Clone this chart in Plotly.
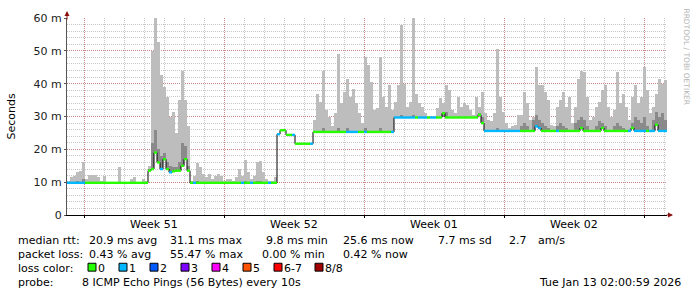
import pandas as pd
import plotly.graph_objects as go

# ---------------- data (one sample every 3.6 h) ----------------
start_time = "2025-12-14 03:36"
sample_minutes = 216

median_ms = [
    9.8, 9.8, 9.8, 9.8, 9.8, 9.8, 9.8, 9.8, 9.8, 9.8,
    9.8, 9.8, 9.8, 9.8, 9.8, 9.8, 9.8, 9.8, 9.8, 9.8,
    9.8, 9.8, 9.8, 9.8, 9.8, 9.8, 9.8, 13.5, 14, 19,
    16, 14, 17, 14, 13, 13.3, 13.5, 13.5, 15, 17,
    13.5, 9.8, 9.8, 9.8, 9.8, 9.8, 9.8, 9.8, 9.8, 9.8,
    9.8, 9.8, 9.8, 9.8, 9.8, 9.8, 9.8, 9.8, 9.8, 9.8,
    9.8, 9.8, 9.8, 9.8, 9.8, 9.8, 9.8, 9.8, 9.8, 9.8,
    24.6, 25.8, 25.8, 24.4, 24.4, 24.4, 21.7, 21.7, 21.7, 21.7,
    21.7, 21.7, 25.3, 25.3, 25.3, 25.3, 25.3, 25.3, 25.3, 25.3,
    25.3, 25.3, 25.3, 25.3, 25.3, 25.3, 25.3, 25.3, 25.3, 25.3,
    25.3, 25.3, 25.3, 25.3, 25.3, 25.3, 25.3, 25.3, 25.3, 29.7,
    29.7, 29.7, 29.7, 29.7, 29.7, 29.7, 29.7, 29.7, 29.7, 29.7,
    29.7, 29.7, 29.7, 29.7, 29.7, 31.0, 29.7, 29.7, 29.7, 29.7,
    29.7, 29.7, 29.7, 29.7, 29.7, 29.7, 29.7, 30.5, 28.0, 25.6,
    25.6, 25.6, 25.6, 25.6, 25.6, 25.6, 25.6, 25.6, 25.6, 25.6,
    25.6, 25.6, 25.6, 25.6, 25.6, 25.6, 27.0, 26.5, 25.6, 25.6,
    25.6, 25.6, 25.6, 25.6, 25.6, 25.6, 25.6, 25.6, 25.6, 25.6,
    25.6, 26.5, 25.6, 25.6, 25.6, 25.6, 25.6, 25.6, 26.5, 25.6,
    25.6, 25.6, 25.6, 25.6, 25.6, 25.6, 25.6, 25.6, 26.5, 25.6,
    25.6, 25.6, 25.6, 25.6, 25.6, 25.6, 27.5, 25.6, 25.6, 25.6,
]

smoke_max_ms = [
    10.5, 11.5, 12, 13, 13.5, 16, 11, 12.3, 12.3, 12.3,
    11.5, 10.5, 12, 10, 9.8, 9.8, 10, 14.7, 10, 9.8,
    9.8, 11, 11.5, 9.8, 10, 11, 10.5, 15, 50, 60,
    52.8, 42.6, 39, 36, 30, 31.5, 25, 35, 44, 35,
    27, 10.5, 12, 15.9, 14.5, 12.5, 11.5, 12.5, 11, 12,
    12.6, 12, 10.5, 11, 11, 10.5, 11.5, 14, 12, 16.8,
    13, 11, 12, 16, 16.5, 13, 11, 10.5, 10.5, 11.5,
    24.6, 25.8, 25.8, 24.4, 24.4, 24.4, 21.7, 21.7, 21.7, 21.7,
    21.7, 21.7, 29, 37, 34.5, 44, 32, 30, 27, 31,
    49, 34, 37.5, 41.5, 36, 38.5, 34, 31, 28, 48,
    45.6, 40.5, 32, 32.5, 48, 36, 33, 39.5, 32, 34.5,
    39.5, 58, 40, 33, 34.5, 60, 37, 34, 33, 31,
    29.7, 29.7, 29.7, 32.5, 35.5, 34, 39.5, 38, 32, 31,
    36, 33, 34, 33.5, 32, 30.5, 36, 33, 37.5, 31,
    29, 28.5, 31, 50.5, 36, 31.5, 28, 26.5, 27, 27.5,
    30.5, 30.5, 37.5, 34, 29, 30, 45, 39.5, 39.5, 37.5,
    35, 27.5, 27, 33, 35, 37.5, 33, 36, 28, 33,
    41.5, 44, 43.5, 36, 29, 30, 33, 34.5, 38, 39.5,
    33, 30, 32, 43.5, 34, 37, 33, 29, 36, 39.5,
    34, 36, 45, 38, 31, 33, 37, 41.5, 40, 41,
]

smoke_mid_ms = [
    10.0, 10.0, 10.0, 10.5, 10.0, 11, 10.0, 10.0, 10.0, 10.0,
    10.0, 10.0, 10.0, 10.0, 10.0, 10.0, 10.0, 10.0, 10.0, 10.0,
    10.0, 10.0, 10.0, 10.0, 10.0, 10.0, 10.0, 14, 22, 26,
    20, 18, 19, 16, 15, 14.5, 14.5, 16, 22, 21,
    15, 10.0, 10.0, 10.5, 10.0, 10.0, 10.0, 10.0, 10.0, 10.0,
    10.0, 10.0, 10.0, 10.0, 10.0, 10.0, 10.0, 10.0, 10.0, 10.5,
    10.0, 10.0, 10.0, 10.5, 10.5, 10.0, 10.0, 10.0, 10.0, 10.0,
    24.6, 25.8, 25.8, 24.4, 24.4, 24.4, 21.7, 21.7, 21.7, 21.7,
    21.7, 21.7, 25.6, 25.6, 25.6, 26.5, 25.6, 25.6, 25.6, 25.6,
    26.5, 25.6, 25.6, 26.5, 25.6, 25.6, 25.6, 25.6, 25.6, 26.5,
    25.6, 25.6, 25.6, 25.6, 26.5, 25.6, 25.6, 25.6, 25.6, 30.0,
    30.0, 30.5, 30.0, 30.0, 30.0, 30.5, 30.0, 30.0, 30.0, 30.0,
    29.7, 29.7, 29.7, 30.0, 30.0, 30.0, 31.5, 30.0, 30.0, 30.0,
    30.0, 30.0, 30.0, 30.0, 30.0, 30.0, 30.0, 31.0, 30.0, 25.9,
    25.9, 25.9, 25.9, 26.5, 25.9, 25.9, 25.9, 25.9, 25.9, 25.9,
    25.9, 27, 28, 27, 25.9, 29, 30.5, 29, 28, 27,
    26.5, 25.9, 25.9, 27, 28, 27, 26.5, 25.9, 25.9, 28,
    29, 30, 29, 27, 25.9, 25.9, 27, 28.5, 28, 27,
    25.9, 25.9, 27, 28, 27, 26.5, 25.9, 25.9, 28, 30,
    29, 28, 30, 27, 25.9, 29, 31.5, 30, 31, 29,
]

# lost pings per sample (0..8)
loss_count = [
    1, 1, 1, 1, 1, 1, 0, 0, 0, 0,
    0, 0, 0, 0, 0, 0, 0, 0, 0, 0,
    0, 0, 0, 0, 0, 0, 0, 0, 0, 0,
    0, 1, 0, 0, 1, 0, 0, 0, 0, 0,
    0, 0, 1, 0, 0, 0, 0, 0, 0, 0,
    0, 0, 0, 0, 0, 0, 0, 0, 1, 0,
    0, 1, 0, 0, 0, 0, 0, 1, 0, 0,
    1, 0, 0, 0, 0, 1, 0, 0, 0, 0,
    0, 1, 0, 0, 0, 0, 0, 0, 0, 0,
    0, 0, 0, 1, 1, 1, 1, 0, 0, 1,
    0, 0, 0, 0, 0, 0, 0, 0, 1, 1,
    1, 1, 1, 1, 1, 1, 0, 1, 1, 1,
    0, 1, 1, 0, 0, 0, 0, 0, 0, 0,
    0, 0, 0, 0, 0, 0, 0, 0, 0, 1,
    1, 1, 1, 1, 1, 1, 1, 1, 1, 1,
    1, 0, 0, 0, 0, 0, 1, 1, 0, 0,
    0, 0, 0, 1, 0, 0, 0, 0, 0, 0,
    0, 0, 0, 0, 0, 0, 0, 0, 0, 0,
    0, 0, 0, 0, 0, 0, 0, 1, 0, 1,
    1, 1, 1, 0, 1, 1, 0, 1, 1, 1,
]

loss_labels = ["0", "1", "2", "3", "4", "5", "6-7", "8/8"]
loss_colors = ["#26ff00", "#00b8ff", "#0059ff", "#7e00ff",
               "#ff00ff", "#ff5500", "#ff0000", "#a10000"]
loss_bins = [[0], [1], [2], [3], [4], [5], [6, 7], [8]]

week_mondays = ["2025-12-15", "2025-12-22", "2025-12-29", "2026-01-05", "2026-01-12"]
week_label_pos = ["2025-12-18 12:00", "2025-12-25 12:00", "2026-01-01 12:00", "2026-01-08 12:00"]
week_labels = ["Week 51", "Week 52", "Week 01", "Week 02"]

y_tickvals = [0, 10, 20, 30, 40, 50, 60]
y_ticktext = ["0", "10 m", "20 m", "30 m", "40 m", "50 m", "60 m"]

stats_rows = [
    ["median rtt:", "20.9 ms avg", "31.1 ms max", "9.8 ms min", "25.6 ms now", "7.7 ms sd", "2.7", "am/s"],
    ["packet loss:", "0.43 % avg", "55.47 % max", "0.00 % min", "0.42 % now"],
]
probe_text = "8 ICMP Echo Pings (56 Bytes) every 10s"
stamp_text = "Tue Jan 13 02:00:59 2026"

# ---------------- geometry helpers ----------------
W, H = 697, 297
L, R, T, B = 67, 30, 15, 82
PW, PH = W - L - R, H - T - B


def px(x):
    return (x - L) / PW


def py(y):
    return (H - B - y) / PH


t0 = pd.Timestamp(start_time)
step = pd.Timedelta(minutes=sample_minutes)
n = len(median_ms)
starts = [t0 + step * i for i in range(n)]
ends = [s + step for s in starts]
centers = [s + step / 2 for s in starts]
bar_w = step.total_seconds() * 1000 * 0.7

fig = go.Figure()

# smoke (outer, light)
fig.add_trace(go.Bar(
    x=centers, y=[h - m for h, m in zip(smoke_max_ms, median_ms)], base=median_ms,
    width=[bar_w] * n, marker=dict(color="#bdbdbd", line=dict(width=0)),
    showlegend=False, hoverinfo="skip"))
# smoke (inner, darker)
fig.add_trace(go.Bar(
    x=centers, y=[h - m for h, m in zip(smoke_mid_ms, median_ms)], base=median_ms,
    width=[bar_w] * n, marker=dict(color="#8a8a8a", line=dict(width=0)),
    showlegend=False, hoverinfo="skip"))

# median connecting line (black)
fig.add_trace(go.Scatter(
    x=starts + [ends[-1]], y=median_ms + [median_ms[-1]], mode="lines",
    line=dict(color="#000000", width=1, shape="hv"), showlegend=False, hoverinfo="skip"))

# median coloured by loss
for lab, col, counts in zip(loss_labels, loss_colors, loss_bins):
    xs, ys = [], []
    for s, e, m, c in zip(starts, ends, median_ms, loss_count):
        if c in counts:
            xs += [s, e, None]
            ys += [m, m, None]
    if xs:
        fig.add_trace(go.Scatter(x=xs, y=ys, mode="lines",
                                 line=dict(color=col, width=2.4),
                                 showlegend=False, hoverinfo="skip"))

major_grid = "rgba(210,60,60,0.45)"
minor_grid = "rgba(0,0,0,0.22)"
font_main = "DejaVu Sans"

fig.update_layout(
    width=W, height=H, margin=dict(l=L, r=R, t=T, b=B),
    paper_bgcolor="white", plot_bgcolor="white",
    barmode="overlay", bargap=0,
    font=dict(family=font_main, size=11, color="#000000"),
    xaxis=dict(
        type="date", range=[t0, t0 + pd.Timedelta(days=30)],
        tickvals=week_mondays, showticklabels=False,
        showgrid=True, gridcolor=major_grid, griddash="1px,1px", gridwidth=1,
        minor=dict(dtick=86400000, tick0="2025-12-15", showgrid=True,
                   gridcolor=minor_grid, griddash="1px,1px", gridwidth=1),
        showline=True, linecolor="#000000", linewidth=1,
        ticks="outside", ticklen=2, tickcolor="#000000",
        zeroline=False, fixedrange=True,
    ),
    yaxis=dict(
        range=[0, 60], tickvals=y_tickvals, ticktext=y_ticktext,
        showgrid=True, gridcolor=major_grid, griddash="1px,1px", gridwidth=1,
        minor=dict(dtick=2, showgrid=True, gridcolor=minor_grid,
                   griddash="1px,1px", gridwidth=1),
        showline=True, linecolor="#555555", linewidth=1,
        ticks="outside", ticklen=2, tickcolor="#555555",
        tickfont=dict(size=11, color="#222222"),
        zeroline=False, fixedrange=True,
    ),
)

ann = []
# week labels
for pos, lab in zip(week_label_pos, week_labels):
    ann.append(dict(x=pos, y=py(225), xref="x", yref="paper", text=lab,
                    showarrow=False, xanchor="center", yanchor="middle"))
# y title
ann.append(dict(x=px(11), y=0.5, xref="paper", yref="paper", text="Seconds",
                textangle=-90, showarrow=False, xanchor="center", yanchor="middle"))
# watermark
ann.append(dict(x=px(687), y=py(54), xref="paper", yref="paper",
                text="RRDTOOL / TOBI OETIKER", textangle=90, showarrow=False,
                font=dict(size=7.5, color="#b4b4b4"), xanchor="center", yanchor="middle"))
# axis arrows
ann.append(dict(x=0, y=py(8), xref="paper", yref="paper", text="", showarrow=True,
                ax=0, ay=10, arrowhead=2, arrowsize=1, arrowwidth=1, arrowcolor="#8b1010"))
ann.append(dict(x=px(673), y=0, xref="paper", yref="paper", text="", showarrow=True,
                ax=-8, ay=0, arrowhead=2, arrowsize=1, arrowwidth=1, arrowcolor="#8b1010"))

# statistics rows
row_x = [[16, 87, 168, 264, 341, 436, 507, 536],
         [16, 87, 168, 260, 341]]
row_y = [241, 255]
for texts, xs, yy in zip(stats_rows, row_x, row_y):
    for t, xx in zip(texts, xs):
        ann.append(dict(x=px(xx), y=py(yy), xref="paper", yref="paper", text=t,
                        showarrow=False, xanchor="left", yanchor="middle"))
# loss colour legend
ann.append(dict(x=px(16), y=py(269), xref="paper", yref="paper", text="loss color:",
                showarrow=False, xanchor="left", yanchor="middle"))
box_x = [88, 119, 150, 181, 212, 243, 274, 315]
shapes = []
for lab, col, bx in zip(loss_labels, loss_colors, box_x):
    shapes.append(dict(type="rect", xref="paper", yref="paper",
                       x0=px(bx), x1=px(bx + 8), y0=py(272), y1=py(264),
                       fillcolor=col, line=dict(color="#000000", width=1)))
    ann.append(dict(x=px(bx + 8), y=py(269), xref="paper", yref="paper", text=lab,
                    showarrow=False, xanchor="left", yanchor="middle"))
# probe row
ann.append(dict(x=px(16), y=py(284), xref="paper", yref="paper", text="probe:",
                showarrow=False, xanchor="left", yanchor="middle"))
ann.append(dict(x=px(80), y=py(284), xref="paper", yref="paper", text=probe_text,
                showarrow=False, xanchor="left", yanchor="middle"))
ann.append(dict(x=px(683), y=py(284), xref="paper", yref="paper", text=stamp_text,
                showarrow=False, xanchor="right", yanchor="middle"))

fig.update_layout(annotations=ann, shapes=shapes)
fig.write_html("out.html", config={"staticPlot": True})
